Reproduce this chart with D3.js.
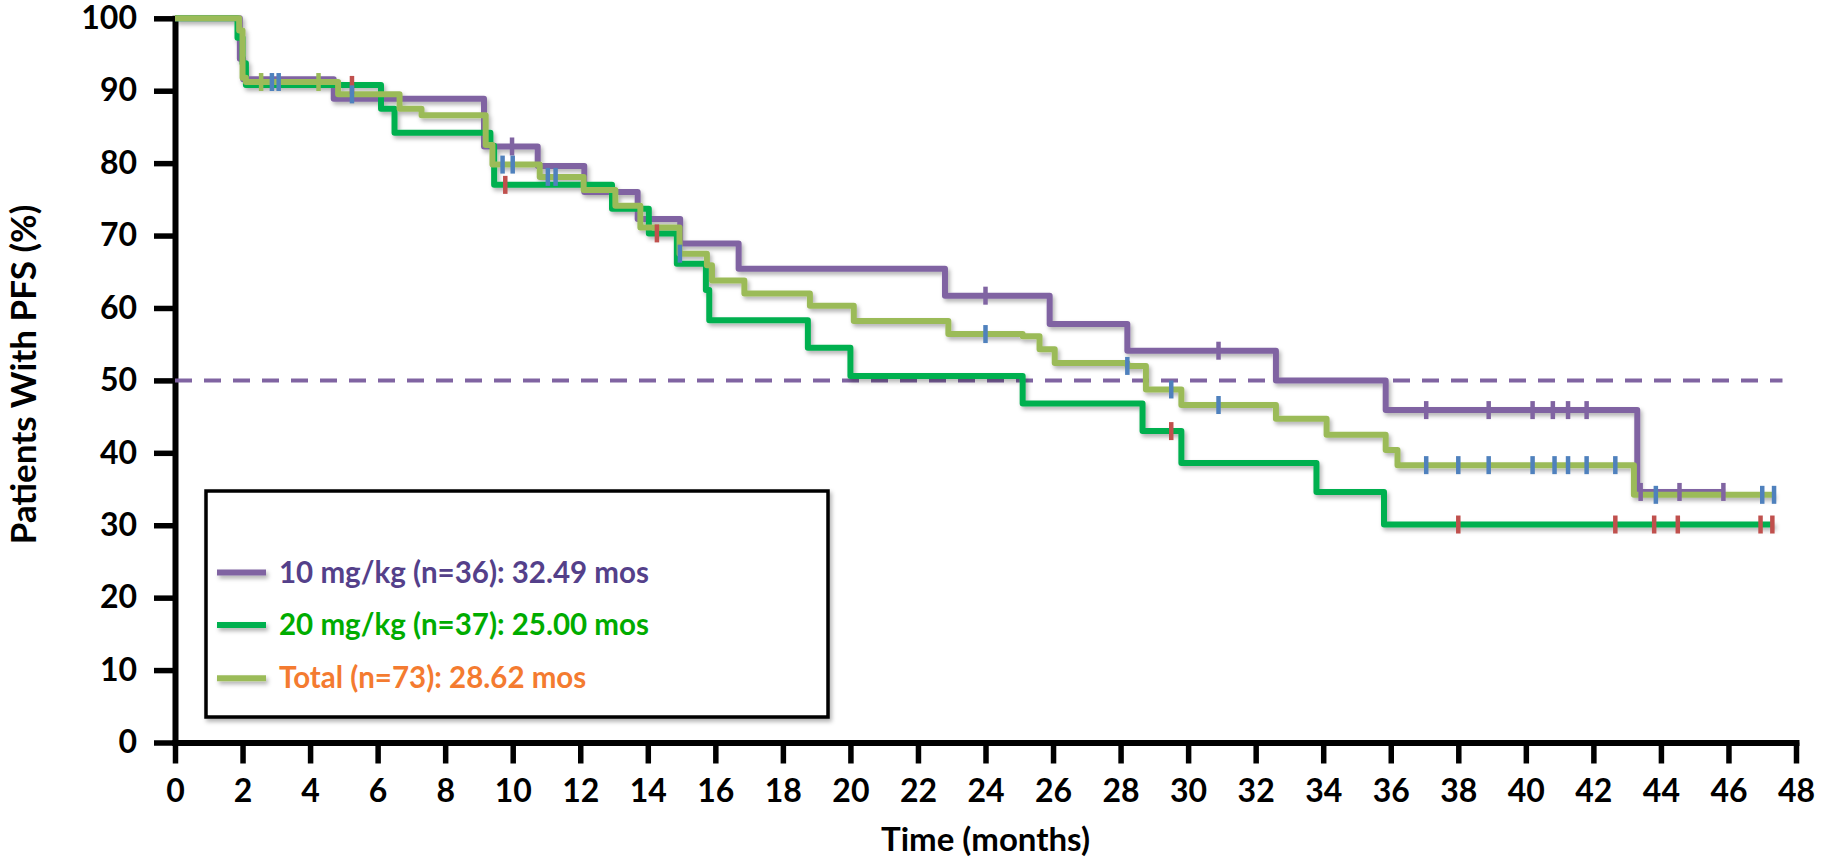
<!DOCTYPE html>
<html>
<head>
<meta charset="utf-8">
<script src="https://cdn.jsdelivr.net/npm/d3@7"></script>
<style>
  body { margin: 0; background: #fff; }
  svg { display: block; font-family: Lato, "Open Sans", sans-serif; font-weight: bold; }
</style>
</head>
<body>
<div id="chart"></div>
<script>
// tick labels
const xTickValues = [0, 2, 4, 6, 8, 10, 12, 14, 16, 18, 20, 22, 24, 26, 28, 30, 32, 34, 36, 38, 40, 42, 44, 46, 48];
const yTickValues = [0, 10, 20, 30, 40, 50, 60, 70, 80, 90, 100];

// step points [month, % with PFS]
const pfs10 = [[0, 100], [1.92, 94.4], [2.02, 91.6], [4.7, 88.9], [9.15, 82.3], [10.74, 79.6],
  [12.12, 76.0], [13.7, 72.3], [14.96, 68.9], [16.69, 65.4], [22.8, 61.7], [25.9, 57.8],
  [28.2, 54.1], [32.6, 50.0], [35.85, 45.9], [43.3, 34.6], [45.9, 34.6]];
const pfs20 = [[0, 100], [1.85, 97.3], [2.0, 93.8], [2.1, 90.8], [6.1, 87.5], [6.5, 84.2],
  [9.34, 82.4], [9.45, 77.0], [12.94, 73.7], [14.03, 70.3], [14.86, 66.1], [15.72, 62.5],
  [15.82, 58.3], [18.74, 54.5], [20.0, 50.6], [25.1, 46.8], [28.65, 43.0], [29.8, 38.6],
  [33.8, 34.6], [35.8, 30.1], [47.35, 30.1]];
const pfsTotal = [[0, 100], [1.9, 98.3], [2.0, 91.8], [2.1, 91.2], [4.83, 89.5], [6.65, 87.5],
  [7.3, 86.6], [9.2, 82.5], [9.4, 79.8], [10.8, 78.1], [12.1, 76.3], [13.04, 74.1],
  [13.78, 71.1], [14.94, 67.5], [15.75, 65.9], [15.9, 63.8], [16.86, 62.0], [18.8, 60.3],
  [20.1, 58.2], [22.9, 56.4], [25.1, 56.1], [25.6, 54.3], [26.05, 52.4], [28.2, 52.0],
  [28.75, 48.75], [29.8, 46.6], [32.6, 44.7], [34.1, 42.5], [35.85, 40.4], [36.2, 38.3],
  [43.2, 34.2], [47.35, 34.2]];

// censored times
const censor10 = [9.98, 24.0, 30.9, 37.05, 38.9, 40.2, 40.8, 41.25, 41.8, 43.4, 44.55, 45.85];
const censor20 = [5.24, 9.78, 14.27, 29.5, 38.0, 42.65, 43.8, 44.5, 46.95, 47.3];
const censorTotal = [2.87, 3.07, 5.24, 9.7, 10.0, 11.04, 11.27, 14.95, 24.0, 28.2, 29.5, 30.9,
  37.05, 38.0, 38.9, 40.2, 40.85, 41.25, 41.8, 42.65, 43.85, 47.0, 47.35];
const censorTotalEarly = [2.55, 4.25];

const legendLabels = ["10 mg/kg (n=36): 32.49 mos", "20 mg/kg (n=37): 25.00 mos", "Total (n=73): 28.62 mos"];
const medianLine = 50;

const W = 1830, H = 860;
const svg = d3.select("#chart").append("svg").attr("width", W).attr("height", H);

const defs = svg.append("defs");
const f = defs.append("filter").attr("id", "shadow")
  .attr("x", "-5%").attr("y", "-5%").attr("width", "110%").attr("height", "120%");
f.append("feDropShadow").attr("dx", 2).attr("dy", 3).attr("stdDeviation", 2)
  .attr("flood-color", "#000").attr("flood-opacity", 0.3);
// flat lines have an empty bbox, so this one works in page units
const f2 = defs.append("filter").attr("id", "shadowFlat").attr("filterUnits", "userSpaceOnUse")
  .attr("x", 0).attr("y", 0).attr("width", W).attr("height", H);
f2.append("feDropShadow").attr("dx", 2).attr("dy", 3).attr("stdDeviation", 2)
  .attr("flood-color", "#000").attr("flood-opacity", 0.3);

const x = d3.scaleLinear().domain([0, 48]).range([175, 1796]);
const y = d3.scaleLinear().domain([0, 100]).range([742.5, 18.3]);

// axes
const xAxis = svg.append("g").attr("transform", `translate(0,${y(0)})`)
  .call(d3.axisBottom(x).tickValues(xTickValues).tickSize(21).tickSizeOuter(0).tickPadding(16));
const yAxis = svg.append("g").attr("transform", `translate(${x(0)},0)`)
  .call(d3.axisLeft(y).tickValues(yTickValues).tickSize(21).tickSizeOuter(0).tickPadding(17));

[xAxis, yAxis].forEach(a => {
  a.select(".domain").attr("stroke", "#000").attr("stroke-width", 6).attr("stroke-linecap", "square");
  a.selectAll(".tick line").attr("stroke", "#000").attr("stroke-width", 5.5);
  a.selectAll(".tick text").attr("fill", "#000").style("font-size", "32px").style("font-weight", "bold")
    .style("font-family", "Lato, sans-serif");
});

svg.append("text").attr("x", (x(0) + x(48)) / 2).attr("y", 851)
  .attr("text-anchor", "middle").style("font-size", "33px").text("Time (months)");
svg.append("text").attr("transform", `translate(36,${(y(0) + y(100)) / 2 - 6}) rotate(-90)`)
  .attr("text-anchor", "middle").style("font-size", "35px").text("Patients With PFS (%)");

// median reference
svg.append("line").attr("x1", x(0)).attr("x2", x(47.6)).attr("y1", y(medianLine)).attr("y2", y(medianLine))
  .attr("stroke", "#8064a2").attr("stroke-width", 4).attr("stroke-dasharray", "17 12");

const line = d3.line().x(d => x(d[0])).y(d => y(d[1])).curve(d3.curveStepAfter);
const series = [
  { data: pfs10, color: "#8064a2" },
  { data: pfs20, color: "#00b050" },
  { data: pfsTotal, color: "#9bbb59" }
];
const curves = svg.append("g").attr("filter", "url(#shadow)");
series.forEach(s => {
  curves.append("path").datum(s.data).attr("d", line)
    .attr("fill", "none").attr("stroke", s.color).attr("stroke-width", 6)
    .attr("stroke-linejoin", "round");
});

function levelAt(data, t) {
  let v = data[0][1];
  data.forEach(d => { if (d[0] <= t) v = d[1]; });
  return v;
}

const marks = svg.append("g");
function drawCensor(times, data, color) {
  marks.selectAll(null).data(times).enter().append("line")
    .attr("x1", t => x(t)).attr("x2", t => x(t))
    .attr("y1", t => y(levelAt(data, t)) - 9).attr("y2", t => y(levelAt(data, t)) + 9)
    .attr("stroke", color).attr("stroke-width", 4.5);
}
drawCensor(censor10, pfs10, "#8064a2");
drawCensor(censor20, pfs20, "#c0504d");
drawCensor(censorTotal, pfsTotal, "#4f81bd");
drawCensor(censorTotalEarly, pfsTotal, "#9bbb59");

// legend
const legend = svg.append("g");
legend.append("rect").attr("x", 206).attr("y", 491).attr("width", 622).attr("height", 226)
  .attr("fill", "#fff").attr("stroke", "#000").attr("stroke-width", 3.5).attr("filter", "url(#shadow)");
const textColors = ["#54408a", "#00ac00", "#f47b30"];
const rowY = [572.5, 625, 678.3];
legendLabels.forEach((lab, i) => {
  legend.append("line").attr("x1", 217).attr("x2", 266).attr("y1", rowY[i]).attr("y2", rowY[i])
    .attr("stroke", series[i].color).attr("stroke-width", 6).attr("filter", "url(#shadowFlat)");
  legend.append("text").attr("x", 279).attr("y", rowY[i] + 10)
    .attr("fill", textColors[i]).style("font-size", "29.5px").text(lab);
});
</script>
</body>
</html>
